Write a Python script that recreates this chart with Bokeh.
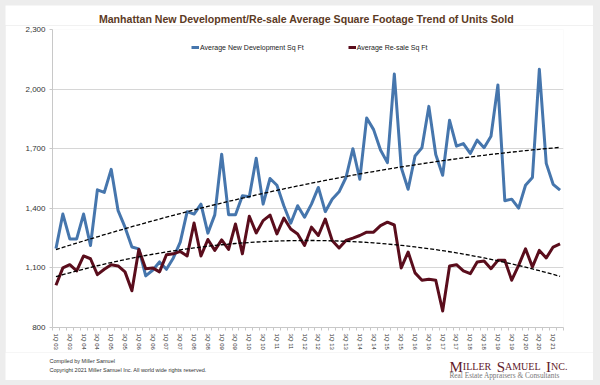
import numpy as np
from bokeh.plotting import figure
from bokeh.layouts import column
from bokeh.models import Legend, LegendItem, FixedTicker, NumeralTickFormatter, Range1d
from bokeh.core.properties import value
from bokeh.embed import file_html
from bokeh.resources import INLINE

# ---------------- data ----------------
quarters = [f"{q}Q {y:02d}" for y in range(3, 22) for q in (1, 2, 3, 4)][:74]

new_dev = [1197, 1371, 1246, 1246, 1371, 1213, 1493, 1480, 1596, 1388, 1305, 1205, 1196, 1060,
           1088, 1130, 1093, 1150, 1230, 1383, 1371, 1421, 1275, 1367, 1672, 1368, 1368, 1463,
           1458, 1652, 1421, 1550, 1516, 1413, 1325, 1413, 1355, 1421, 1505, 1383, 1446, 1483,
           1555, 1700, 1546, 1855, 1796, 1693, 1630, 2076, 1605, 1496, 1663, 1705, 1913, 1671,
           1566, 1843, 1713, 1726, 1676, 1743, 1705, 1763, 2021, 1438, 1446, 1401, 1516, 1555,
           2100, 1626, 1521, 1491]

resale = [1013, 1100, 1116, 1085, 1160, 1146, 1066, 1093, 1116, 1110, 1080, 985, 1193, 1096,
          1100, 1080, 1166, 1171, 1183, 1160, 1326, 1160, 1243, 1188, 1241, 1193, 1321, 1171,
          1360, 1276, 1338, 1366, 1271, 1351, 1296, 1271, 1213, 1305, 1263, 1346, 1238, 1200,
          1238, 1250, 1263, 1280, 1280, 1313, 1330, 1316, 1100, 1180, 1075, 1038, 1043, 1038,
          883, 1110, 1116, 1085, 1071, 1130, 1135, 1096, 1138, 1138, 1038, 1113, 1196, 1105,
          1188, 1150, 1205, 1221]

y_ticks = [800, 1100, 1400, 1700, 2000, 2300]
series_names = ["Average New Development Sq Ft", "Average Re-sale Sq Ft"]
title_text = "Manhattan New Development/Re-sale Average Square Footage Trend of Units Sold"
footer_left = ["Compiled by Miller Samuel",
               "Copyright 2021 Miller Samuel Inc.  All world wide rights reserved."]
logo_sub = "Real Estate Appraisers & Consultants"

# ---------------- layout constants (page pixels) ----------------
PAD = 5            # white panel starts at page (5, 5)
PW = 588           # panel width
HEAD_H = 20        # header: page y 5..25
MAIN_H = 327       # main:   page y 25..352
FOOT_H = 28        # footer: page y 352..380
BLUE = "#4676ad"
MAROON = "#5a0d1c"
FONT = "Liberation Sans"


def no_align(f):
    try:
        f.frame_align = False
    except AttributeError:
        pass


def blank(height, y_top):
    f = figure(width=PW, height=height, output_backend="svg", toolbar_location=None,
               x_range=Range1d(PAD, PAD + PW), y_range=Range1d(y_top + height, y_top),
               x_axis_location=None, y_axis_location=None, min_border=0)
    f.outline_line_color = None
    f.grid.visible = False
    f.background_fill_color = "white"
    f.border_fill_color = "white"
    no_align(f)
    return f


# ---------------- header ----------------
head = blank(HEAD_H, PAD)
head.text(x=[306], y=[24.3], text=[title_text], text_font=value(FONT),
          text_font_style="bold", text_font_size="10.6px", text_color="#5c3a24",
          text_align="center", text_baseline="bottom")

# ---------------- main chart ----------------
x = np.arange(len(quarters))
p = figure(width=PW, height=MAIN_H, output_backend="svg", toolbar_location=None,
           x_range=Range1d(-0.5, len(quarters) - 0.5), y_range=Range1d(y_ticks[0], y_ticks[-1]),
           min_border_left=52 - PAD, min_border_right=PAD + PW - 563,
           min_border_top=29 - 25, min_border_bottom=352 - 329)
p.outline_line_color = None
p.background_fill_color = "white"
p.border_fill_color = "white"
no_align(p)

p.xaxis.ticker = FixedTicker(ticks=list(range(0, len(quarters), 2)),
                             minor_ticks=[i - 0.5 for i in range(len(quarters) + 1)])
p.xaxis.major_label_overrides = {i: quarters[i] for i in range(0, len(quarters), 2)}
p.xaxis.major_label_orientation = "vertical"
p.xaxis.major_tick_in = 0
p.xaxis.major_tick_out = 0
p.xaxis.minor_tick_in = 0
p.xaxis.minor_tick_out = 3
p.xaxis.minor_tick_line_color = "#c8c8c8"
p.xaxis.axis_line_color = "#c8c8c8"
p.xaxis.major_label_text_font_size = "6px"
p.xaxis.major_label_text_font = FONT
p.xaxis.major_label_text_color = "#333333"
p.xaxis.major_label_standoff = 3

p.yaxis.ticker = FixedTicker(ticks=y_ticks, minor_ticks=[])
p.yaxis.formatter = NumeralTickFormatter(format="0,0")
p.yaxis.major_tick_in = 0
p.yaxis.major_tick_out = 3
p.yaxis.major_tick_line_color = "#c8c8c8"
p.yaxis.axis_line_color = "#c8c8c8"
p.yaxis.major_label_text_font_size = "8px"
p.yaxis.major_label_text_font = FONT
p.yaxis.major_label_text_color = "#333333"
p.yaxis.major_label_standoff = 4

p.xgrid.visible = False
p.ygrid.ticker = FixedTicker(ticks=y_ticks)
p.ygrid.grid_line_color = "#d6d6d6"

r1 = p.line(x, new_dev, color=BLUE, line_width=3, line_join="round")
r2 = p.line(x, resale, color=MAROON, line_width=3, line_join="round")

# polynomial (order 2) trend lines
for s in (new_dev, resale):
    c = np.polyfit(x, s, 2)
    p.line(x, np.polyval(c, x), color="black", line_width=1.3, line_dash="4 2")

legend = Legend(items=[LegendItem(label=series_names[0], renderers=[r1]),
                       LegendItem(label=series_names[1], renderers=[r2])],
                orientation="horizontal", location=(139, 276),
                glyph_width=8, glyph_height=8, label_height=8, label_standoff=1,
                spacing=44, padding=0, margin=0,
                border_line_alpha=0, background_fill_alpha=0,
                label_text_font_size="7px", label_text_font=FONT,
                label_text_color="#222222")
p.add_layout(legend)

# ---------------- footer ----------------
foot = blank(FOOT_H, 352)
foot.text(x=[49, 49], y=[360, 369], text=footer_left, text_font=value(FONT),
          text_font_size="5.5px", text_color="#333333", text_baseline="middle")

# small-caps logo
metrics = {"M": .889, "I": .333, "L": .611, "E": .611, "R": .667, "S": .556, "A": .722,
           "U": .722, "N": .722, "C": .667, ".": .25}
big, small, word_gap = 15, 10, 5.5
pieces = [("M", big), ("ILLER", small), (" ", 0), ("S", big), ("AMUEL", small),
          (" ", 0), ("I", big), ("NC.", small)]
cx = 449
for txt, sz in pieces:
    if txt == " ":
        cx += word_gap
        continue
    foot.text(x=[cx], y=[366], text=[txt], text_font=value("Liberation Serif"),
              text_font_size=f"{sz}px", text_color="#621a2a", text_baseline="alphabetic")
    cx += sum(metrics[ch] for ch in txt) * sz
foot.text(x=[449], y=[374.5], text=[logo_sub], text_font=value("Liberation Serif"),
          text_font_size="7.3px", text_color="#777777", text_baseline="middle")

layout = column(head, p, foot, spacing=0)

html = file_html(layout, INLINE)
css = ("<style>html, body { background-color: #ededed !important; }"
       " body { padding: 5px !important; margin: 0 !important; box-sizing: border-box; }</style>")
html = html.replace("</head>", css + "</head>", 1)
open("out.html", "w").write(html)
